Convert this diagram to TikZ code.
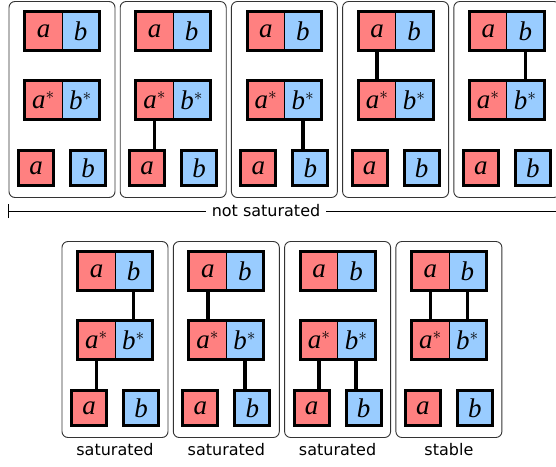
\documentclass[tikz,border=0pt]{standalone}
\usepackage{fontspec}
\newfontfamily\labelfont{DejaVu Sans}
\newfontfamily\cellfont{Liberation Serif}
\usetikzlibrary{arrows.meta, positioning}

\definecolor{redfill}{RGB}{255,128,128}
\definecolor{bluefill}{RGB}{153,204,255}

\newcommand{\cell}[1]{{\cellfont\itshape #1}}
\newcommand{\cellstar}[1]{{\cellfont\itshape #1}$^{*}$}

\begin{document}
\begin{tikzpicture}[x=1pt, y=-1pt,
    % Node styles
    panel/.style={rectangle, draw=black!80, line width=0.9pt, rounded corners=6pt,
                  minimum width=106pt, minimum height=196pt, inner sep=0pt},
    half/.style={rectangle, draw=black, line width=0.8pt, minimum width=37pt,
                 minimum height=38pt, inner sep=0pt, font=\fontsize{27}{30}\selectfont},
    redhalf/.style={half, fill=redfill},
    bluehalf/.style={half, fill=bluefill},
    mono/.style={rectangle, draw=black, line width=3pt, minimum width=35pt,
                 minimum height=35pt, inner sep=0pt, font=\fontsize{27}{30}\selectfont},
    redmono/.style={mono, fill=redfill},
    bluemono/.style={mono, fill=bluefill},
    dimer/.style={draw=black, line width=3pt},
    link/.style={draw=black, line width=3.5pt},
    caption/.style={font=\labelfont\fontsize{16}{19}\selectfont, inner sep=1pt}
]
\useasboundingbox (0,0) rectangle (556,466);

% Panels: top row (not saturated), bottom row
\foreach \i/\px/\py in {1/9/1, 2/120.2/1, 3/231.4/1, 4/342.6/1, 5/453.8/1,
                        6/62/241, 7/173.3/241, 8/284.6/241, 9/395.9/241} {
    \node[panel] (p\i) at (\px+53, \py+98.5) {};
    % Upper dimer
    \node[redhalf] (a\i) at (\px+34.5, \py+30) {\cell{a}};
    \node[bluehalf] (b\i) at (\px+71.5, \py+30) {\cell{b}};
    \draw[dimer] (a\i.north west) rectangle (b\i.south east);
    % Starred dimer
    \node[redhalf] (as\i) at (\px+34.5, \py+99) {\cellstar{a}};
    \node[bluehalf] (bs\i) at (\px+71.5, \py+99) {\cellstar{b}};
    \draw[dimer] (as\i.north west) rectangle (bs\i.south east);
    % Monomers
    \node[redmono] (ma\i) at (\px+27, \py+167) {\cell{a}};
    \node[bluemono] (mb\i) at (\px+79, \py+167) {\cell{b}};
}

% Links
\draw[link] (as2.south) -- (as2.south |- ma2.north);
\draw[link] (bs3.south) -- (bs3.south |- mb3.north);
\draw[link] (a4.south) -- (as4.north);
\draw[link] (b5.south) -- (bs5.north);
\draw[link] (b6.south) -- (bs6.north);
\draw[link] (as6.south) -- (as6.south |- ma6.north);
\draw[link] (a7.south) -- (as7.north);
\draw[link] (bs7.south) -- (bs7.south |- mb7.north);
\draw[link] (as8.south) -- (as8.south |- ma8.north);
\draw[link] (bs8.south) -- (bs8.south |- mb8.north);
\draw[link] (a9.south) -- (as9.north);
\draw[link] (b9.south) -- (bs9.north);

% Not saturated bracket
\coordinate (nsleft) at (8,211);
\coordinate (nsright) at (556,211);
\node[caption, inner sep=6pt] (ns) at (266,211) {not saturated};
\draw[line width=1pt, {Bar[width=14pt]}-] (nsleft) -- (ns.west);
\draw[line width=1pt] (ns.east) -- (nsright);

% Captions
\node[caption, below=4pt of p6] (c6) {saturated};
\node[caption, below=4pt of p7] (c7) {saturated};
\node[caption, below=4pt of p8] (c8) {saturated};
\node[caption, below=4pt of p9] (c9) {stable};
\end{tikzpicture}
\end{document}
